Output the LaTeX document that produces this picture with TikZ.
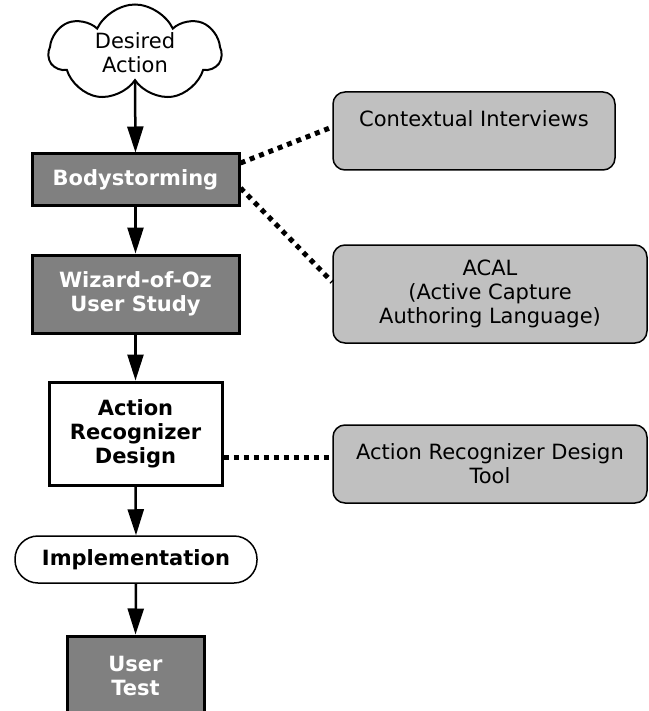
\documentclass[tikz,border=0pt]{standalone}
\usepackage{fontspec}
\setmainfont{DejaVu Sans}
\usepackage{tikz}
\usetikzlibrary{shapes.symbols,arrows.meta}
\definecolor{stepgray}{RGB}{128,128,128}
\definecolor{notegray}{RGB}{192,192,192}
\newcommand{\diagfont}{\fontsize{21}{24}\selectfont}

\begin{document}
\begin{tikzpicture}[x=1pt, y=-1pt,
  phase/.style={rectangle, draw, line width=3pt, fill=stepgray, text=white,
    font=\diagfont\bfseries, align=center, inner sep=0pt},
  plainphase/.style={phase, fill=white, text=black},
  note/.style={rectangle, draw, line width=1.5pt, rounded corners=12pt, fill=notegray,
    font=\diagfont, align=center, inner sep=0pt},
  flow/.style={line width=2.5pt, -{Triangle[length=26pt,width=16pt]}},
  link/.style={line width=5pt, dash pattern=on 5pt off 5pt}]
  \clip (0,0) rectangle (648,711);

  % Process steps
  \node[cloud, cloud puffs=7, cloud puff arc=130, cloud ignores aspect, draw, line width=2pt,
    fill=white, font=\diagfont, align=center, inner sep=0pt,
    minimum width=172pt, minimum height=97pt] (desire) at (135,53) {Desired\\Action};
  \node[phase, minimum width=207pt, minimum height=52pt] (body) at (135.5,180) {Bodystorming};
  \node[phase, minimum width=207pt, minimum height=78pt] (woz) at (135.5,294) {Wizard-of-Oz\\User Study};
  \node[plainphase, minimum width=173pt, minimum height=103pt] (ard) at (135.5,433.5) {Action\\Recognizer\\Design};
  \node[rectangle, draw, line width=1.5pt, rounded corners=23pt, fill=white, font=\diagfont\bfseries,
    minimum width=242pt, minimum height=47pt, inner sep=0pt] (impl) at (136,559.5) {Implementation};
  \node[phase, minimum width=137pt, minimum height=80pt] (utest) at (135.5,676) {User\\Test};

  % Supporting methods
  \node[note, minimum width=282pt, minimum height=78pt] (ctx) at (474,131) {Contextual Interviews\\ \mbox{}};
  \node[note, minimum width=314pt, minimum height=98pt] (acal) at (490,294) {ACAL\\(Active Capture\\Authoring Language)};
  \node[note, minimum width=314pt, minimum height=78pt] (ardtool) at (490,464) {Action Recognizer Design\\Tool};

  \draw[flow] (desire.south) -- (body.north);
  \draw[flow] (body.south) -- (woz.north);
  \draw[flow] (woz.south) -- (ard.north);
  \draw[flow] (ard.south) -- (impl.north);
  \draw[flow] (impl.south) -- (utest.north);

  \draw[link] ([yshift=17pt]body.east) -- ([yshift=4pt]ctx.west);
  \draw[link] ([yshift=-8pt]body.east) -- ([yshift=12pt]acal.west);
  \draw[link] ([yshift=-23.5pt]ard.east) -- ([yshift=7pt]ardtool.west);
\end{tikzpicture}
\end{document}
